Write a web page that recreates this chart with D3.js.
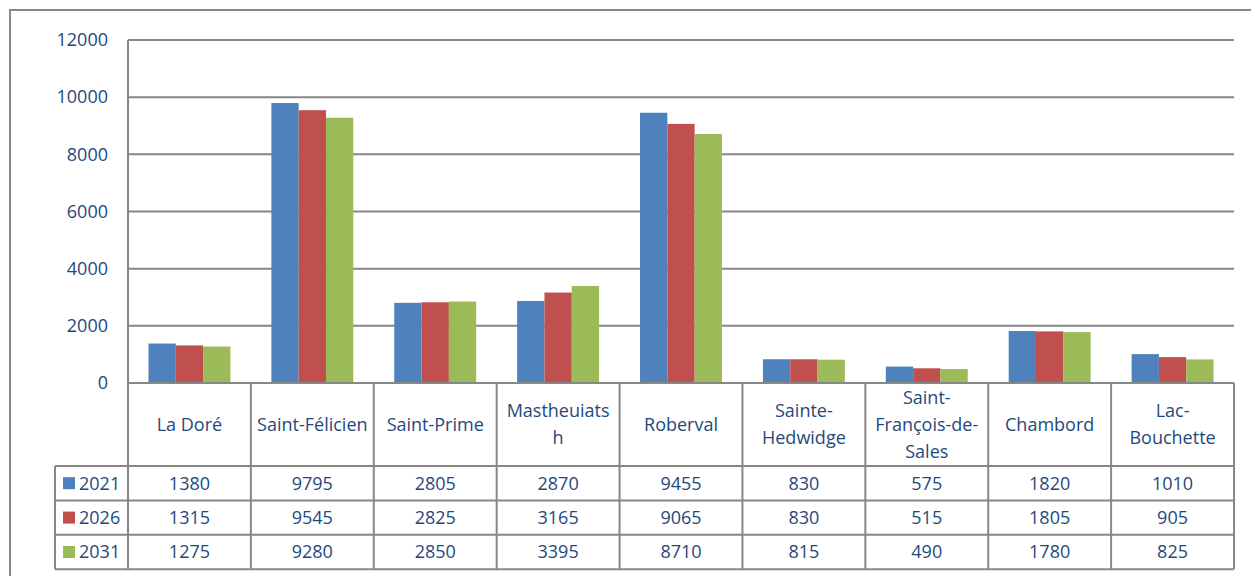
<!DOCTYPE html>
<html>
<head>
<meta charset="utf-8">
<script src="https://cdn.jsdelivr.net/npm/d3@7"></script>
<style>
  html, body { margin: 0; padding: 0; background: #fff; }
  svg { display: block; }
  text { font-family: "Open Sans", "Noto Sans", sans-serif; fill: #1F497D; }
</style>
</head>
<body>
<svg id="chart" width="1251" height="576"></svg>
<script>
// Municipalities (label lines as wrapped in the category row)
const categories = ["La Doré", "Saint-Félicien", "Saint-Prime", "Mastheuiatsh", "Roberval",
                    "Sainte-Hedwidge", "Saint-François-de-Sales", "Chambord", "Lac-Bouchette"];
const categoryLines = [["La Doré"], ["Saint-Félicien"], ["Saint-Prime"], ["Mastheuiats", "h"],
                       ["Roberval"], ["Sainte-", "Hedwidge"], ["Saint-", "François-de-", "Sales"],
                       ["Chambord"], ["Lac-", "Bouchette"]];
const seriesNames = ["2021", "2026", "2031"];
const values2021 = [1380, 9795, 2805, 2870, 9455, 830, 575, 1820, 1010];
const values2026 = [1315, 9545, 2825, 3165, 9065, 830, 515, 1805, 905];
const values2031 = [1275, 9280, 2850, 3395, 8710, 815, 490, 1780, 825];
const seriesColors = ["#4F81BD", "#C0504D", "#9BBB59"];
const yTicks = [0, 2000, 4000, 6000, 8000, 10000, 12000];

const seriesValues = [values2021, values2026, values2031];

const svg = d3.select("#chart");
const plotLeft = 128, plotRight = 1234, plotTop = 40, plotBottom = 383;
const catRowBottom = 466, rowH = 34.4, legendLeft = 55;
const gridColor = "#878787";
const fontSize = 18;

// Outer chart frame
svg.append("path")
  .attr("d", `M10,576 L10,10 L1251,10`)
  .attr("fill", "none").attr("stroke", gridColor).attr("stroke-width", 2);

const x0 = d3.scaleBand().domain(categories).range([plotLeft, plotRight]).paddingInner(0).paddingOuter(0);
const x1 = d3.scaleBand().domain(seriesNames).range([0, x0.bandwidth()]).paddingInner(0).paddingOuter(0.75);
const y = d3.scaleLinear().domain([0, 12000]).range([plotBottom, plotTop]);

// Horizontal gridlines
svg.append("g").selectAll("line").data(yTicks.filter(d => d > 0)).join("line")
  .attr("x1", plotLeft).attr("x2", plotRight)
  .attr("y1", d => y(d)).attr("y2", d => y(d))
  .attr("stroke", gridColor).attr("stroke-width", 2);

// Y-axis labels
const yAxis = d3.axisLeft(y).tickValues(yTicks).tickSize(0).tickPadding(20).tickFormat(d3.format("d"));
const gy = svg.append("g").attr("transform", `translate(${plotLeft},0)`).call(yAxis);
gy.select(".domain").remove();
gy.selectAll("text").attr("font-size", fontSize).style("fill", "#1F497D")
  .attr("font-family", '"Open Sans", "Noto Sans", sans-serif');

// Bars
const groups = svg.append("g").selectAll("g").data(categories).join("g")
  .attr("transform", d => `translate(${x0(d)},0)`);
groups.selectAll("rect")
  .data((c, i) => seriesNames.map((s, j) => ({ s, j, v: seriesValues[j][i] })))
  .join("rect")
  .attr("x", d => x1(d.s))
  .attr("width", x1.bandwidth())
  .attr("y", d => y(d.v))
  .attr("height", d => y(0) - y(d.v))
  .attr("fill", d => seriesColors[d.j]);

// Data table grid
const grid = svg.append("g").attr("stroke", gridColor).attr("stroke-width", 2).attr("fill", "none");
// horizontal lines
grid.append("line").attr("x1", plotLeft).attr("x2", plotRight).attr("y1", plotBottom).attr("y2", plotBottom);
for (let r = 0; r <= 3; r++) {
  const yy = catRowBottom + r * rowH;
  grid.append("line").attr("x1", legendLeft).attr("x2", plotRight).attr("y1", yy).attr("y2", yy);
}
// vertical lines
grid.append("line").attr("x1", plotLeft).attr("x2", plotLeft).attr("y1", plotTop).attr("y2", catRowBottom + 3 * rowH);
grid.append("line").attr("x1", legendLeft).attr("x2", legendLeft).attr("y1", catRowBottom).attr("y2", catRowBottom + 3 * rowH);
categories.forEach(c => {
  const xx = x0(c) + x0.bandwidth();
  grid.append("line").attr("x1", xx).attr("x2", xx).attr("y1", plotBottom).attr("y2", catRowBottom + 3 * rowH);
});

// Category labels
const catMid = (plotBottom + catRowBottom) / 2;
const lineH = 27;
categories.forEach((c, i) => {
  const lines = categoryLines[i];
  const t = svg.append("text")
    .attr("x", x0(c) + x0.bandwidth() / 2)
    .attr("text-anchor", "middle")
    .attr("font-size", fontSize);
  lines.forEach((ln, k) => {
    t.append("tspan")
      .attr("x", x0(c) + x0.bandwidth() / 2)
      .attr("y", catMid + (k - (lines.length - 1) / 2) * lineH)
      .attr("dy", "0.35em")
      .text(ln);
  });
});

// Table rows: legend key + values
seriesNames.forEach((s, j) => {
  const cy = catRowBottom + j * rowH + rowH / 2;
  svg.append("rect")
    .attr("x", 63).attr("y", cy - 6).attr("width", 12).attr("height", 12)
    .attr("fill", seriesColors[j]);
  svg.append("text")
    .attr("x", 79).attr("y", cy).attr("dy", "0.35em")
    .attr("font-size", fontSize).text(s);
  categories.forEach((c, i) => {
    svg.append("text")
      .attr("x", x0(c) + x0.bandwidth() / 2)
      .attr("y", cy).attr("dy", "0.35em")
      .attr("text-anchor", "middle")
      .attr("font-size", fontSize)
      .text(seriesValues[j][i]);
  });
});
</script>
</body>
</html>
